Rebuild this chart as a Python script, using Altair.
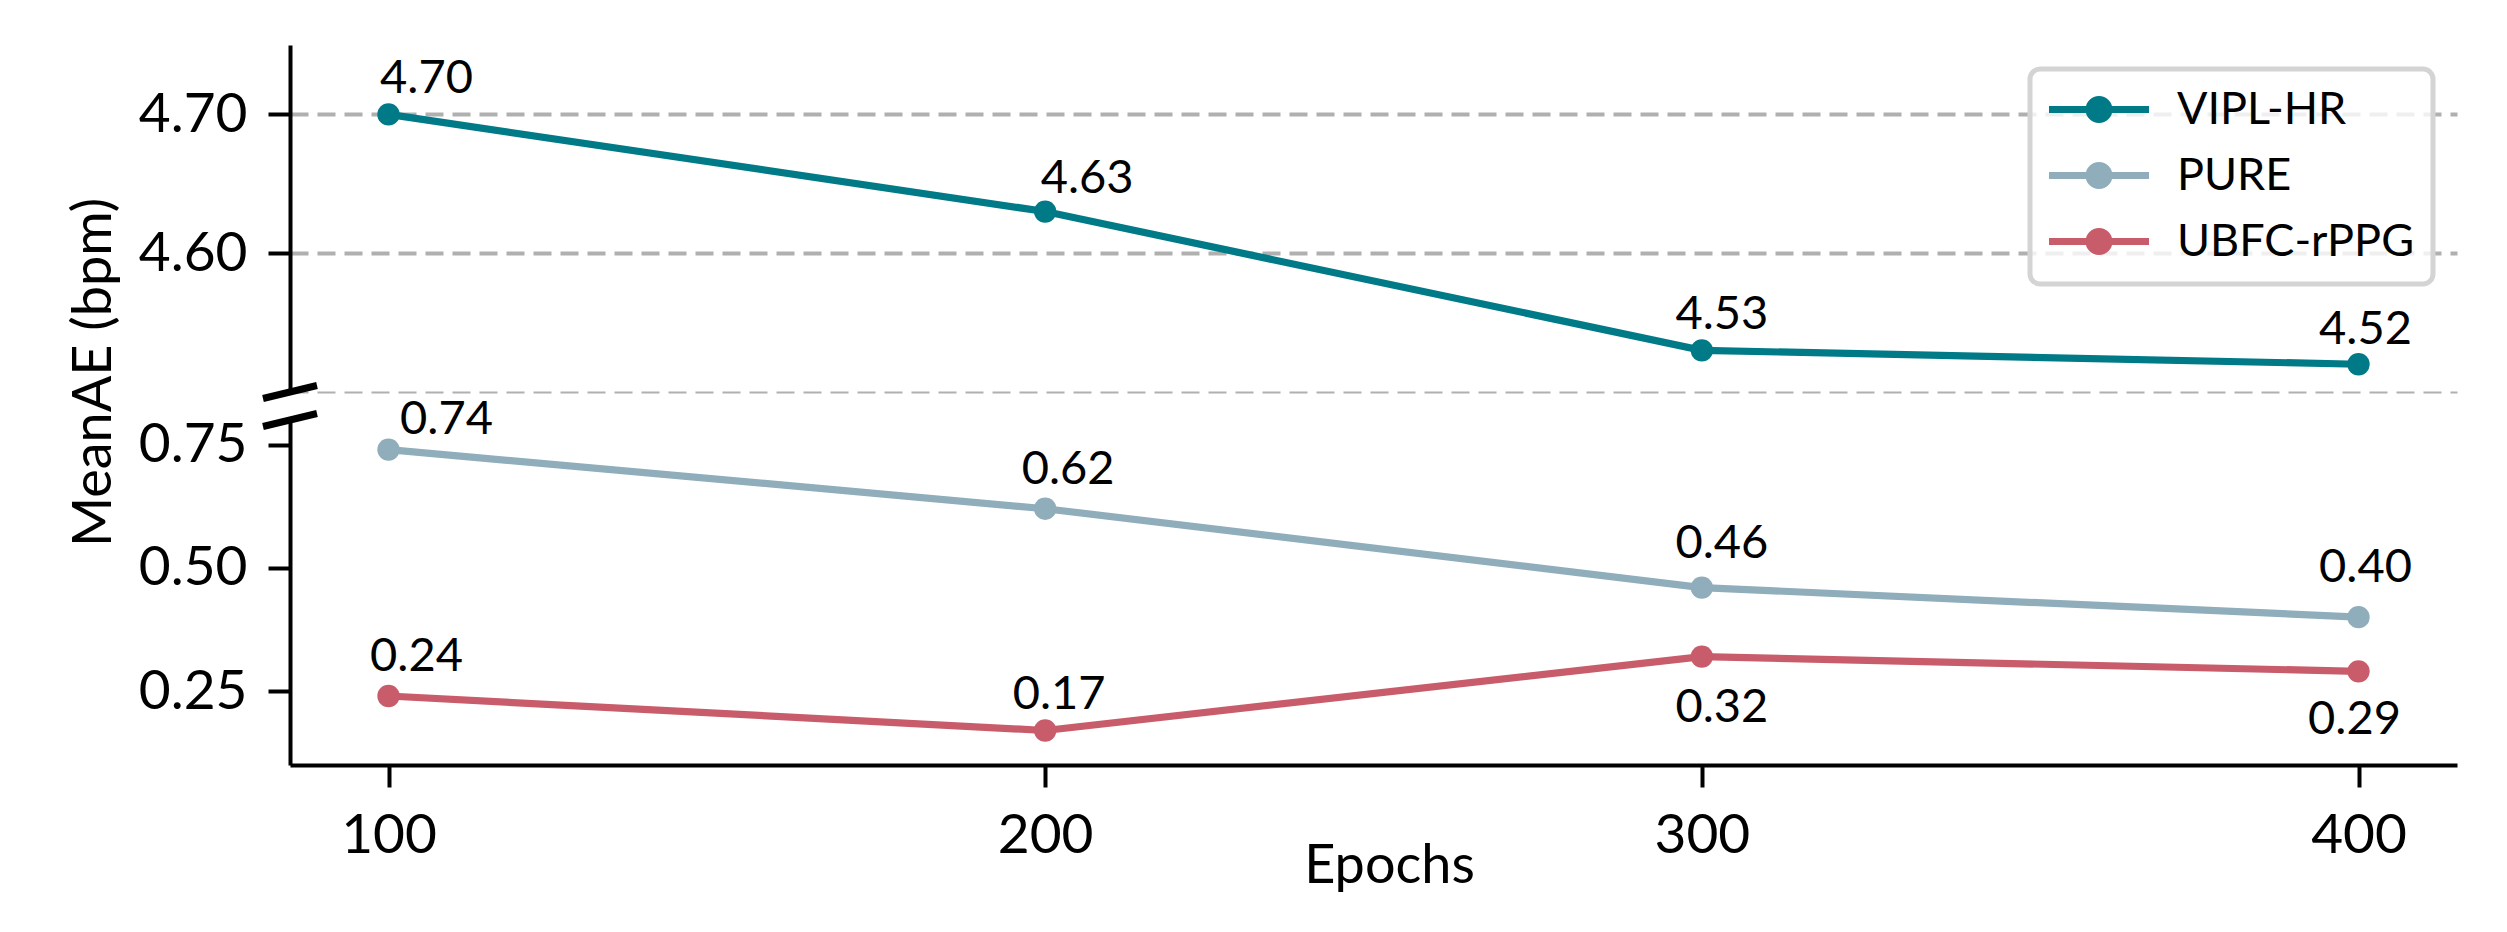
import altair as alt
import pandas as pd

# ---------------- data ----------------
epochs = [100, 200, 300, 400]
series_names = ["VIPL-HR", "PURE", "UBFC-rPPG"]
vipl_hr = [4.70, 4.63, 4.53, 4.52]
pure = [0.74, 0.62, 0.46, 0.40]
ubfc_rppg = [0.24, 0.17, 0.32, 0.29]
colors = ["#007A87", "#8FADBA", "#C85C6A"]
x_ticks = [100, 200, 300, 400]
upper_ticks = [4.50, 4.60, 4.70]
lower_ticks = [0.25, 0.50, 0.75]
upper_domain = [4.50, 4.75]
lower_domain = [0.10, 0.80]
x_domain = [85, 415]

rows = []
for name, vals in zip(series_names, [vipl_hr, pure, ubfc_rppg]):
    for e, v in zip(epochs, vals):
        rows.append({"epoch": e, "value": v, "series": name, "label": f"{v:.2f}"})
df = pd.DataFrame(rows)

# label offsets (dx, dy) in pixels, per series / epoch
label_offsets = {
    ("VIPL-HR", 100): (38, -35), ("VIPL-HR", 200): (42, -33),
    ("VIPL-HR", 300): (20, -35), ("VIPL-HR", 400): (7, -34),
    ("PURE", 100): (58, -30), ("PURE", 200): (23, -39),
    ("PURE", 300): (20, -44), ("PURE", 400): (7, -49),
    ("UBFC-rPPG", 100): (28, -39), ("UBFC-rPPG", 200): (14, -36),
    ("UBFC-rPPG", 300): (20, 51), ("UBFC-rPPG", 400): (-4, 49),
}

FONT = "Lato"
W, H = 2167, 720
UP_RANGE = [347, 0]
LO_RANGE = [720, 375]

# legend symbol: line with a solid dot
s = 13.5
def u(px):
    return round(px / s, 3)
cx, r1, r2 = u(28.5), u(3.5), u(10)
legend_path = (
    f"M{u(-21.5)},0L{u(78.5)},0"
    f"M{round(cx - r1, 3)},0A{r1},{r1} 0 1,0 {round(cx + r1, 3)},0A{r1},{r1} 0 1,0 {round(cx - r1, 3)},0"
    f"M{round(cx - r2, 3)},0A{r2},{r2} 0 1,0 {round(cx + r2, 3)},0A{r2},{r2} 0 1,0 {round(cx - r2, 3)},0"
)

x_scale = alt.Scale(domain=x_domain, nice=False, zero=False)
x_axis = alt.Axis(values=x_ticks, format="d", grid=False, title="Epochs",
                  labelPadding=22, titleX=1099, titleY=117,
                  titleBaseline="alphabetic", titleFontSize=54)

color_enc = alt.Color(
    "series:N",
    scale=alt.Scale(domain=series_names, range=colors),
    legend=alt.Legend(title=None, orient="top-right", offset=24,
                      symbolType=legend_path, symbolSize=729,
                      symbolStrokeWidth=7, labelFontSize=45, labelFont=FONT,
                      labelOffset=84, rowPadding=17, padding=18,
                      labelLimit=600,
                      strokeColor="#d4d4d4", fillColor="rgba(255,255,255,0.8)",
                      cornerRadius=10, labelColor="black"),
)

up_scale = alt.Scale(domain=upper_domain, range=UP_RANGE, nice=False, zero=False)
up_axis = alt.Axis(orient="left", values=upper_ticks, title=None,
                   labelExpr="datum.value == 4.5 ? '' : format(datum.value, '.2f')",
                   tickOpacity={"condition": {"test": "datum.value == 4.5", "value": 0}, "value": 1},
                   gridWidth={"condition": {"test": "datum.value == 4.5", "value": 2}, "value": 3.8})
lo_scale = alt.Scale(domain=lower_domain, range=LO_RANGE, nice=False, zero=False)
lo_axis = alt.Axis(orient="left", values=lower_ticks, format=".2f",
                   title="MeanAE (bpm)", titleX=-180, titleY=327,
                   titleAlign="center", titleBaseline="alphabetic",
                   titleAngle=270)


def group(series_list, y_scale, y_axis, break_value):
    x_enc = alt.X("epoch:Q", scale=x_scale, axis=x_axis)
    y_enc = alt.Y("value:Q", scale=y_scale, axis=y_axis)
    b = alt.Chart(df).transform_filter(
        alt.FieldOneOfPredicate(field="series", oneOf=series_list))
    line = b.mark_line(strokeWidth=7.2).encode(x=x_enc, y=y_enc, color=color_enc)
    pts = b.mark_point(filled=True, size=500, opacity=1, shape="circle").encode(
        x=x_enc, y=y_enc, color=color_enc)
    texts = []
    for (sname, ep), (dx, dy) in label_offsets.items():
        if sname not in series_list:
            continue
        t = alt.Chart(df).transform_filter(
            (alt.datum.series == sname) & (alt.datum.epoch == ep)
        ).mark_text(font=FONT, fontSize=47, color="black", align="center",
                    baseline="middle", dx=dx, dy=dy).encode(
            x=x_enc, y=y_enc, text="label:N")
        texts.append(t)
    brk = alt.Chart(pd.DataFrame({"epoch": [x_domain[0]], "value": [break_value]})).mark_point(
        shape="M-1,0.24L1,-0.24", size=2916, strokeWidth=7, color="black",
        filled=False, opacity=1).encode(x=x_enc, y=y_enc)
    return alt.layer(line, pts, *texts, brk)


upper = group(["VIPL-HR"], up_scale, up_axis, upper_domain[0])
lower = group(["PURE", "UBFC-rPPG"], lo_scale, lo_axis, lower_domain[1])

chart = alt.layer(upper, lower).resolve_scale(y="independent").properties(
    width=W, height=H,
    autosize=alt.AutoSizeParams(type="none"),
    padding={"left": 282, "top": 37, "right": 30, "bottom": 155},
).configure_view(stroke=None).configure_axis(
    labelFont=FONT, titleFont=FONT, labelFontSize=55, titleFontSize=54,
    titleFontWeight="normal", labelColor="black", titleColor="black",
    domainColor="black", domainWidth=4, tickColor="black", tickWidth=4,
    tickSize=22, labelPadding=21, gridColor="#b0b0b0", gridDash=[18, 9],
    gridWidth=3.8,
).configure_legend(strokeWidth=5)

chart.save("out.html", embed_options={"renderer": "svg", "actions": False})
